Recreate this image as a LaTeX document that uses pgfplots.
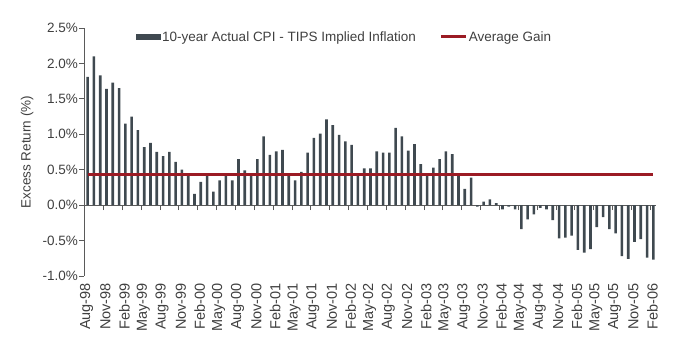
\documentclass[border=0pt]{standalone}
\usepackage{fontspec}
\setmainfont{Liberation Sans}
\usepackage{pgfplots}
\pgfplotsset{compat=1.18}
\definecolor{barc}{HTML}{3F4950}
\definecolor{redc}{HTML}{9B1B24}
\definecolor{txtc}{HTML}{404040}
\definecolor{axc}{HTML}{5A5A5A}
\begin{document}
\begin{tikzpicture}[font=\fontsize{13.5bp}{16bp}\selectfont, text=txtc]
\path[use as bounding box] (0,0) rectangle (680bp,352bp);
% axis B: x tick labels only
\begin{axis}[
  at={(84.5bp,76bp)}, anchor=south west,
  scale only axis, width=572bp, height=248bp,
  xmin=-0.5, xmax=90.5, ymin=-1, ymax=2.5,
  axis y line=none, axis x line=bottom,
  x axis line style={draw=none},
  major tick length=0pt,
  xtick={0,3,...,90},
  xticklabels={Aug-98,Nov-98,Feb-99,May-99,Aug-99,Nov-99,Feb-00,May-00,Aug-00,Nov-00,Feb-01,May-01,Aug-01,Nov-01,Feb-02,May-02,Aug-02,Nov-02,Feb-03,May-03,Aug-03,Nov-03,Feb-04,May-04,Aug-04,Nov-04,Feb-05,May-05,Aug-05,Nov-05,Feb-06},
  xticklabel style={yshift=-7bp, xshift=-1bp, rotate=90, anchor=east, font=\fontsize{14.5bp}{16bp}\selectfont, text=txtc, inner sep=0pt},
]
\addplot[draw=none] coordinates {(0,0)};
\end{axis}
% axis A: data
\begin{axis}[
  at={(84.5bp,76bp)}, anchor=south west,
  scale only axis, width=572bp, height=248bp,
  xmin=-0.5, xmax=90.5, ymin=-1, ymax=2.5,
  axis y line=left, axis x line=middle,
  axis line style={-, draw=axc, line width=0.9bp},
  every inner x axis line/.append style={-},
  every outer y axis line/.append style={-},
  xtick={2.5,5.5,...,89.5}, xticklabels={},
  x tick style={draw=axc, line width=0.8bp},
  y tick style={draw=axc, line width=0.8bp},
  xtick align=outside, ytick align=outside,
  major tick length=5bp,
  ytick={-1,-0.5,...,2.5},
  yticklabel={\pgfmathprintnumber[fixed,fixed zerofill,precision=1]{\tick}\%},
  /pgf/number format/assume math mode=true,
  yticklabel style={text=txtc, font=\fontsize{13.5bp}{16bp}\selectfont, xshift=2bp},
  every axis y label/.style={at={(axis description cs:-0.1005,0.5)}, rotate=90, anchor=center},
  ylabel={Excess Return (\%)},
  legend style={at={(axis description cs:0.454,0.964)}, anchor=center, draw=none, fill=none,
    legend columns=2, font=\fontsize{13.5bp}{16bp}\selectfont, text=txtc,
    /tikz/every even column/.append style={column sep=22bp},
    nodes={inner sep=1.5bp}},
  legend cell align=left,
  clip=false,
]
\addplot[ybar, bar width=2.6bp, bar shift=0pt, fill=barc, draw=none,
  legend image code/.code={\fill[barc] (0bp,-3bp) rectangle (25bp,3bp);}]
coordinates {
(0,1.81) (1,2.10) (2,1.83) (3,1.64) (4,1.73) (5,1.65) (6,1.15) (7,1.25) (8,1.06) (9,0.82)
(10,0.88) (11,0.75) (12,0.69) (13,0.75) (14,0.61) (15,0.50) (16,0.41) (17,0.16) (18,0.33) (19,0.41)
(20,0.19) (21,0.35) (22,0.41) (23,0.35) (24,0.65) (25,0.49) (26,0.41) (27,0.65) (28,0.97) (29,0.71)
(30,0.76) (31,0.78) (32,0.41) (33,0.35) (34,0.47) (35,0.74) (36,0.95) (37,1.01) (38,1.21) (39,1.13)
(40,0.99) (41,0.90) (42,0.85) (43,0.41) (44,0.52) (45,0.52) (46,0.76) (47,0.74) (48,0.74) (49,1.09)
(50,0.97) (51,0.77) (52,0.86) (53,0.58) (54,0.41) (55,0.53) (56,0.65) (57,0.76) (58,0.72) (59,0.41)
(60,0.23) (61,0.39) (62,-0.02) (63,0.05) (64,0.08) (65,0.03) (66,-0.06) (67,-0.02) (68,-0.06) (69,-0.34)
(70,-0.20) (71,-0.13) (72,-0.04) (73,-0.06) (74,-0.21) (75,-0.47) (76,-0.46) (77,-0.43) (78,-0.63) (79,-0.67)
(80,-0.62) (81,-0.31) (82,-0.17) (83,-0.34) (84,-0.40) (85,-0.72) (86,-0.76) (87,-0.52) (88,-0.48) (89,-0.74)
(90,-0.77)
};
\addlegendentry{10-year Actual CPI - TIPS Implied Inflation}
\addplot[redc, line width=3bp, no marks,
  legend image code/.code={\draw[redc, line width=3bp] (0bp,0bp) -- (25bp,0bp);}]
coordinates {(0,0.43) (90,0.43)};
\addlegendentry{Average Gain}
\end{axis}
\end{tikzpicture}
\end{document}
